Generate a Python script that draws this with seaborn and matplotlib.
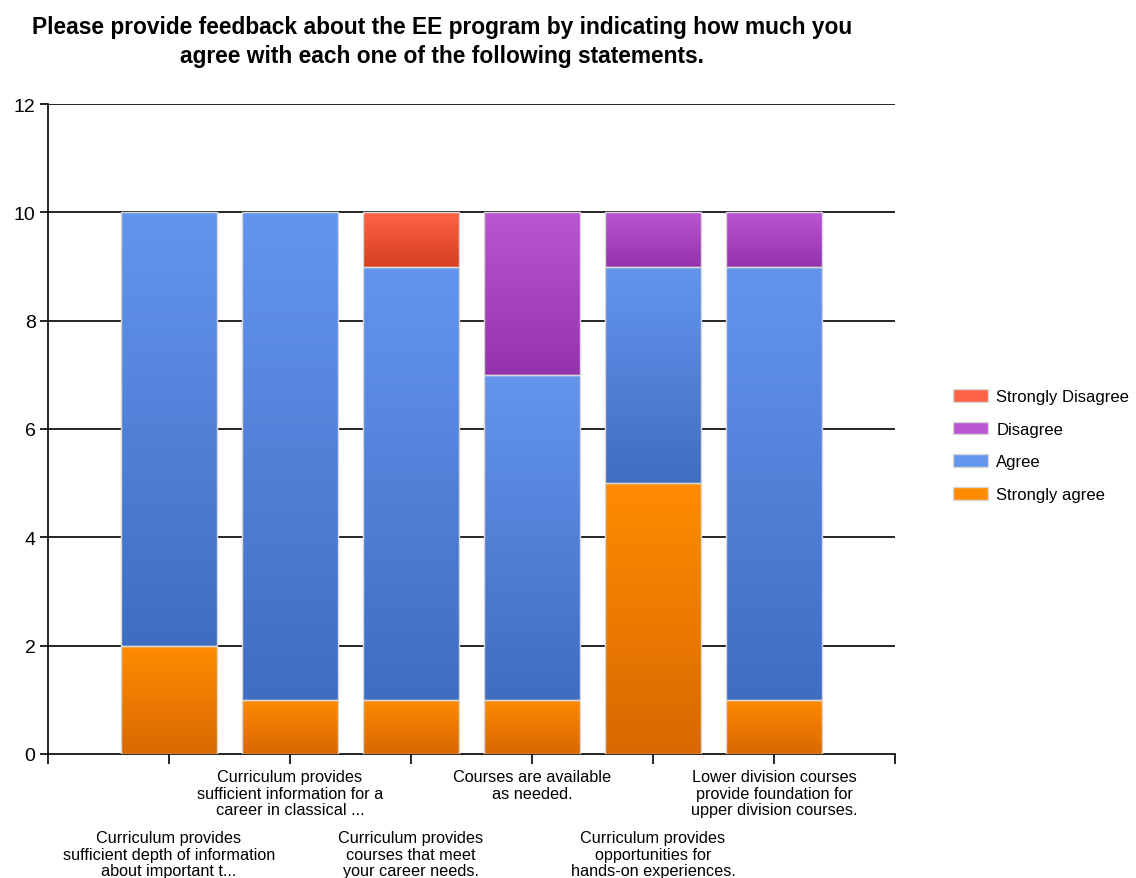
import numpy as np
import pandas as pd
import matplotlib
matplotlib.use("Agg")
import matplotlib.pyplot as plt
import seaborn as sns
from matplotlib.colors import LinearSegmentedColormap
from matplotlib.patches import Patch

sns.set_style("white")
plt.rcParams['font.family'] = ['Liberation Sans', 'DejaVu Sans']
plt.rcParams['text.color'] = 'black'
plt.rcParams['xtick.color'] = 'black'
plt.rcParams['ytick.color'] = 'black'

title = "Please provide feedback about the EE program by indicating how much you\nagree with each one of the following statements."
categories = [
    "Curriculum provides\nsufficient depth of information\nabout important t...",
    "Curriculum provides\nsufficient information for a\ncareer in classical ...",
    "Curriculum provides\ncourses that meet\nyour career needs.",
    "Courses are available\nas needed.",
    "Curriculum provides\nopportunities for\nhands-on experiences.",
    "Lower division courses\nprovide foundation for\nupper division courses.",
]
positions = [1, 2, 3, 4, 5, 6]
strongly_agree = [2, 1, 1, 1, 5, 1]
agree = [8, 9, 8, 6, 4, 8]
disagree = [0, 0, 0, 3, 1, 1]
strongly_disagree = [0, 0, 1, 0, 0, 0]

series = ["Strongly agree", "Agree", "Disagree", "Strongly Disagree"]
values = [strongly_agree, agree, disagree, strongly_disagree]
# (top colour, bottom colour)
colors = {
    "Strongly agree": ("#FF8C00", "#D96800"),
    "Agree": ("#6495ED", "#3F6DC2"),
    "Disagree": ("#BA55D3", "#9532AE"),
    "Strongly Disagree": ("#FF6347", "#D63F20"),
}

fig = plt.figure(figsize=(11.36, 8.79), dpi=100)
ax = fig.add_axes([48/1136, 1-755/879, (895-48)/1136, (755-105)/879])

bottom = np.zeros(len(positions))
for name, vals in zip(series, values):
    df = pd.DataFrame({"pos": positions, "val": vals})
    n_before = len(ax.patches)
    sns.barplot(data=df, x="pos", y="val", native_scale=True, width=0.8,
                bottom=bottom, color=colors[name][0], ax=ax,
                edgecolor="#d8d8d8", linewidth=1.0, zorder=3)
    new_patches = ax.patches[n_before:]
    cmap = LinearSegmentedColormap.from_list(name, [colors[name][1], colors[name][0]])
    for p in new_patches:
        h = p.get_height()
        if h <= 0:
            p.set_visible(False)
            continue
        x0, y0 = p.get_x(), p.get_y()
        w = p.get_width()
        grad = np.linspace(0, 1, 100).reshape(-1, 1)
        ax.imshow(grad, cmap=cmap, origin="lower", aspect="auto",
                  extent=[x0, x0 + w, y0, y0 + h], zorder=2.9, interpolation="bicubic")
        p.set_facecolor("none")
    bottom = bottom + np.array(vals)

ax.set_xlim(0, 7)
ax.set_ylim(0, 12)
ax.set_yticks(range(0, 13, 2))
ax.set_xticks(range(0, 8))
ax.set_xticklabels([])
ax.set_xlabel("")
ax.set_ylabel("")
ax.grid(False)
for yv in range(2, 13, 2):
    ax.axhline(yv, color="black", lw=1.2, zorder=1)
for s in ["top", "right"]:
    ax.spines[s].set_visible(False)
for s in ["left", "bottom"]:
    ax.spines[s].set_color("black")
    ax.spines[s].set_linewidth(1.2)
ax.tick_params(axis="both", direction="out", length=6, width=1.2, color="black",
               labelsize=14, bottom=True, left=True, pad=3)
ax.tick_params(axis="x", length=7)

for i, (pos, lab) in enumerate(zip(positions, categories)):
    off = -55 if i % 2 == 0 else -11
    ax.annotate(lab, xy=(pos, 0), xycoords=ax.get_xaxis_transform(),
                xytext=(0, off), textcoords="offset points",
                ha="center", va="top", fontsize=11.7, linespacing=1.12,
                annotation_clip=False)

fig.text(442/1136, 1-42/879, title, ha="center", va="center",
         fontsize=16.4, fontweight="bold", linespacing=1.3)

handles = [Patch(facecolor=colors[n][0], edgecolor="#d8d8d8", label=n)
           for n in ["Strongly Disagree", "Disagree", "Agree", "Strongly agree"]]
fig.legend(handles=handles, loc="upper left", bbox_to_anchor=(953/1136, 1-390/879),
           frameon=False, fontsize=12, handlelength=2.1, handleheight=0.8,
           labelspacing=1.05, handletextpad=0.5, borderaxespad=0, borderpad=0)

fig.savefig("out.png", dpi=100)
